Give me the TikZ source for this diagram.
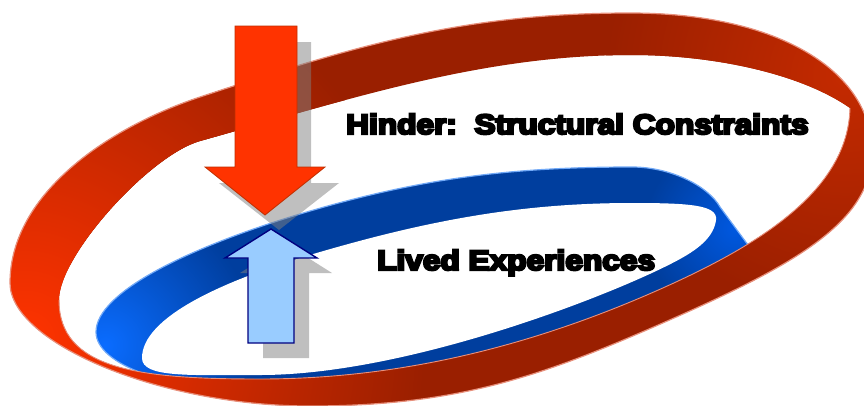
\documentclass[tikz,border=0pt]{standalone}
\usepackage{fontspec}
\newfontfamily\heavyfont{Liberation Sans}[BoldFeatures={FakeBold=8}]
\definecolor{redbase}{HTML}{9A1F00}
\definecolor{redbright}{HTML}{FF3300}
\definecolor{redtop}{HTML}{C42A00}
\definecolor{reddark}{HTML}{7C1800}
\definecolor{redrim}{HTML}{E8907C}
\definecolor{bluebase}{HTML}{003E9E}
\definecolor{bluebright}{HTML}{0A6CFF}
\definecolor{blueend}{HTML}{0058E0}
\definecolor{bluerim}{HTML}{72AAF8}
\definecolor{arrowred}{HTML}{FF3300}
\definecolor{arrowredline}{HTML}{C03000}
\definecolor{arrowblue}{HTML}{99CCFF}
\definecolor{arrowblueline}{HTML}{000080}
% red ribbon: outer edge (clockwise on screen)
\def\RO{(10,283) .. controls (10,193) and (110,126.7) .. (200,97) .. controls (350,47.5) and (460,13) .. (630,13) .. controls (780,13) and (872,72) .. (872,152) .. controls (872,222) and (795,264.8) .. (665,322) .. controls (545,374.8) and (460,406) .. (310,406) .. controls (160,406) and (10,343) .. (10,283) -- cycle}
% red ribbon: inner edge, same direction
\def\RI{(59,300) .. controls (59,255) and (150,155) .. (200,141) .. controls (350,99) and (482,55) .. (632,55) .. controls (712,55) and (800,73) .. (850,108) .. controls (848,188) and (765,242) .. (665,287) .. controls (545,341) and (410,379) .. (260,379) .. controls (140,379) and (59,370) .. (59,300) -- cycle}
% red ribbon: inner edge, reverse direction (for the ring clip)
\def\RIrev{(59,300) .. controls (59,370) and (140,379) .. (260,379) .. controls (410,379) and (545,341) .. (665,287) .. controls (765,242) and (848,188) .. (850,108) .. controls (800,73) and (712,55) .. (632,55) .. controls (482,55) and (350,99) .. (200,141) .. controls (150,155) and (59,255) .. (59,300) -- cycle}
% lower part of the red inner edge (light rim)
\def\RIlow{(850,108) .. controls (848,188) and (765,242) .. (665,287) .. controls (545,341) and (410,379) .. (260,379) .. controls (140,379) and (59,370) .. (59,300)}
% blue ribbon
\def\BO{(96,332) .. controls (96,292) and (190,247) .. (300,214) .. controls (420,178) and (512,167) .. (632,167) .. controls (672,167) and (709,187) .. (720,207) -- (762,264) -- (700,288) .. controls (545,356) and (410,391) .. (260,391) .. controls (170,391) and (96,365) .. (96,332) -- cycle}
\def\BI{(142,358) .. controls (142,318) and (220,281) .. (320,252) .. controls (430,220) and (522,203) .. (632,203) .. controls (690,203) and (718,205) .. (716,220) .. controls (714,236) and (700,248) .. (680,259) .. controls (620,292) and (410,375) .. (260,375) .. controls (190,375) and (142,378) .. (142,358) -- cycle}
\tikzset{
  shadowgray/.style={fill=black!50, fill opacity=0.5, draw=none},
  redarrow/.style={fill=arrowred, draw=arrowredline, line width=0.8pt, line join=miter},
  bluearrow/.style={fill=arrowblue, draw=arrowblueline, line width=1.4pt, line join=miter},
  label/.style={anchor=base west, inner sep=0pt, font=\heavyfont\bfseries\fontsize{28}{30}\selectfont}
}
\begin{document}
\begin{tikzpicture}[x=1pt,y=-1pt]
\useasboundingbox (0,0) rectangle (864,405);
\fill[white] (0,0) rectangle (864,405);
% blue ribbon
\fill[bluebase] \BO;
\begin{scope}
  \clip \BO;
  \shade[inner color=bluebright, outer color=bluebase] (105,345) circle (150pt);
  \shade[inner color=blueend, outer color=bluebase] (735,228) circle (90pt);
\end{scope}
\draw[bluerim, line width=1.2pt] \BO;
\fill[white] \BI;
% red ribbon
\begin{scope}
  \clip \RO \RIrev;
  \fill[redbase] (0,0) rectangle (880,420);
  \shade[inner color=reddark, outer color=redbase] (110,110) circle (160pt);
  \shade[inner color=redbright, outer color=redbase] (25,340) circle (400pt);
  \shade[inner color=redtop, outer color=redbase] (845,75) circle (240pt);
\end{scope}
\draw[redrim, line width=1.2pt] \RO;
\draw[redrim, line width=0.9pt] \RIlow;
% red arrow
\fill[shadowgray] (249,42) -- (311,42) -- (311,183) -- (339,183) -- (279,230) -- (219,183) -- (249,183) -- cycle;
\draw[redarrow] (235,26) -- (297,26) -- (297,167) -- (325,167) -- (265,215) -- (205,167) -- (235,167) -- cycle;
% blue arrow
\fill[shadowgray] (286,244) -- (332,273) -- (309,273) -- (309,358) -- (263,358) -- (263,273) -- (240,273) -- cycle;
\draw[bluearrow] (271,229) -- (317,258) -- (294,258) -- (294,343) -- (248,343) -- (248,258) -- (225,258) -- cycle;
% labels
\node[label] (hinder) at (346,134) {\scalebox{1.13}[1]{Hinder:\ \ Structural Constraints}};
\node[label] (lived) at (377,270) {\scalebox{1.13}[1]{Lived Experiences}};
\end{tikzpicture}
\end{document}
